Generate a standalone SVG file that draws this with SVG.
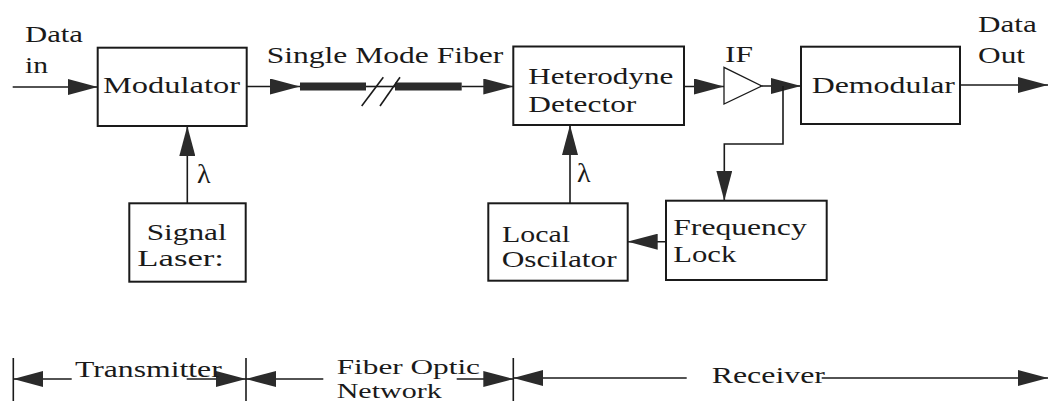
<svg xmlns="http://www.w3.org/2000/svg" width="1048" height="404" viewBox="0 0 1048 404" font-family="Liberation Serif">
<defs>
<style>
.box{fill:#fff;stroke:#1a1a1a;stroke-width:2}
.ln{fill:none;stroke:#1a1a1a;stroke-width:1.6}
.arr{fill:none;stroke:#1a1a1a;stroke-width:1.6;marker-end:url(#ah)}
.fib{fill:#2b2b2b}
text{font-family:"Liberation Serif",serif;font-size:24px;fill:#1a1a1a}
</style>
<marker id="ah" markerUnits="userSpaceOnUse" markerWidth="30" markerHeight="16" refX="30" refY="8" orient="auto">
<path d="M0,0 L30,8 L0,16 Z" fill="#2b2b2b"/>
</marker>
</defs>
<rect width="1048" height="404" fill="#fff"/>

<g id="labels-io">
<text font-family="Liberation Serif" x="25" y="41.7" textLength="58" lengthAdjust="spacingAndGlyphs">Data</text>
<text font-family="Liberation Serif" x="25" y="72.7" textLength="23" lengthAdjust="spacingAndGlyphs">in</text>
<text font-family="Liberation Serif" x="978" y="31.7" textLength="58.7" lengthAdjust="spacingAndGlyphs">Data</text>
<text font-family="Liberation Serif" x="978" y="63.3" textLength="47" lengthAdjust="spacingAndGlyphs">Out</text>
</g>

<g id="modulator">
<rect class="box" x="97.7" y="47.7" width="149" height="78.3"/>
<text font-family="Liberation Serif" x="103" y="92.7" textLength="137" lengthAdjust="spacingAndGlyphs">Modulator</text>
</g>

<g id="fiber">
<rect class="fib" x="300" y="82.5" width="66" height="8"/>
<rect class="fib" x="395" y="82.5" width="66.7" height="8"/>
<line class="ln" x1="366" y1="86.5" x2="395" y2="86.5"/>
<line class="ln" x1="361.7" y1="106" x2="383.3" y2="77.3"/>
<line class="ln" x1="380" y1="106" x2="400" y2="77.3"/>
<text font-family="Liberation Serif" x="266.7" y="63.3" textLength="236.6" lengthAdjust="spacingAndGlyphs">Single Mode Fiber</text>
</g>

<g id="heterodyne">
<rect class="box" x="513.3" y="46.5" width="170.7" height="78.5"/>
<text font-family="Liberation Serif" x="528.3" y="84.3" textLength="145" lengthAdjust="spacingAndGlyphs">Heterodyne</text>
<text font-family="Liberation Serif" x="528.3" y="111.7" textLength="108" lengthAdjust="spacingAndGlyphs">Detector</text>
</g>

<g id="if-amp">
<polygon points="724,67.3 724,104 761.7,86" fill="#fff" stroke="#1a1a1a" stroke-width="1.3"/>
<text font-family="Liberation Serif" x="725" y="61.7" textLength="28" lengthAdjust="spacingAndGlyphs">IF</text>
</g>

<g id="demodular">
<rect class="box" x="801" y="46.7" width="159" height="77.3"/>
<text font-family="Liberation Serif" x="811.7" y="93.3" textLength="143.3" lengthAdjust="spacingAndGlyphs">Demodular</text>
</g>

<g id="signal-laser">
<rect class="box" x="129.3" y="203.3" width="116.4" height="78.4"/>
<text font-family="Liberation Serif" x="146.7" y="240" textLength="80" lengthAdjust="spacingAndGlyphs">Signal</text>
<text font-family="Liberation Serif" x="137.3" y="265.7" textLength="86.7" lengthAdjust="spacingAndGlyphs">Laser:</text>
</g>

<g id="local-oscillator">
<rect class="box" x="488.3" y="203.3" width="139.4" height="77.4"/>
<text font-family="Liberation Serif" x="502" y="241.7" textLength="68" lengthAdjust="spacingAndGlyphs">Local</text>
<text font-family="Liberation Serif" x="501.7" y="266.7" textLength="115" lengthAdjust="spacingAndGlyphs">Oscilator</text>
</g>

<g id="frequency-lock">
<rect class="box" x="666" y="200.7" width="160.7" height="79.3"/>
<text font-family="Liberation Serif" x="673.3" y="235" textLength="133.4" lengthAdjust="spacingAndGlyphs">Frequency</text>
<text font-family="Liberation Serif" x="673.3" y="261.7" textLength="63" lengthAdjust="spacingAndGlyphs">Lock</text>
</g>

<g id="connectors">
<line class="arr" x1="12.7" y1="87" x2="97.7" y2="87"/>
<line class="arr" x1="246.7" y1="86.5" x2="300" y2="86.5"/>
<line class="arr" x1="461.7" y1="86.5" x2="513.3" y2="86.5"/>
<line class="arr" x1="684" y1="86.5" x2="724" y2="86.5"/>
<line class="arr" x1="761.7" y1="86" x2="801" y2="86"/>
<polyline class="arr" points="783,86 783,144 724.3,144 724.3,200.7"/>
<line class="arr" x1="960" y1="85" x2="1048" y2="85"/>
<line class="arr" x1="187.3" y1="203.3" x2="187.3" y2="126"/>
<line class="arr" x1="570" y1="203.3" x2="570" y2="125"/>
<line class="arr" x1="666" y1="241.7" x2="627.7" y2="241.7"/>
<text font-family="Liberation Serif" x="197" y="183" style="font-size:28px">λ</text>
<text font-family="Liberation Serif" x="577" y="181.7" style="font-size:28px">λ</text>
</g>

<g id="section-scale">
<line class="ln" x1="13.3" y1="358" x2="13.3" y2="401"/>
<line class="ln" x1="246" y1="358" x2="246" y2="401"/>
<line class="ln" x1="513.3" y1="358" x2="513.3" y2="401"/>
<line class="arr" x1="71.7" y1="379" x2="13.3" y2="379"/>
<line class="arr" x1="186.7" y1="379" x2="246" y2="379"/>
<line class="arr" x1="323.3" y1="379" x2="246" y2="379"/>
<line class="arr" x1="456.7" y1="379" x2="513.3" y2="379"/>
<line class="arr" x1="686.7" y1="378" x2="513.3" y2="378"/>
<line class="arr" x1="821.7" y1="378" x2="1048" y2="378"/>
<text font-family="Liberation Serif" x="75" y="377" textLength="146.7" lengthAdjust="spacingAndGlyphs">Transmitter</text>
<text font-family="Liberation Serif" x="336.7" y="374" style="font-size:21px" textLength="143.3" lengthAdjust="spacingAndGlyphs">Fiber Optic</text>
<text font-family="Liberation Serif" x="336.7" y="398" style="font-size:21px" textLength="105" lengthAdjust="spacingAndGlyphs">Network</text>
<text font-family="Liberation Serif" x="711.7" y="383.3" textLength="113.3" lengthAdjust="spacingAndGlyphs">Receiver</text>
</g>
</svg>
